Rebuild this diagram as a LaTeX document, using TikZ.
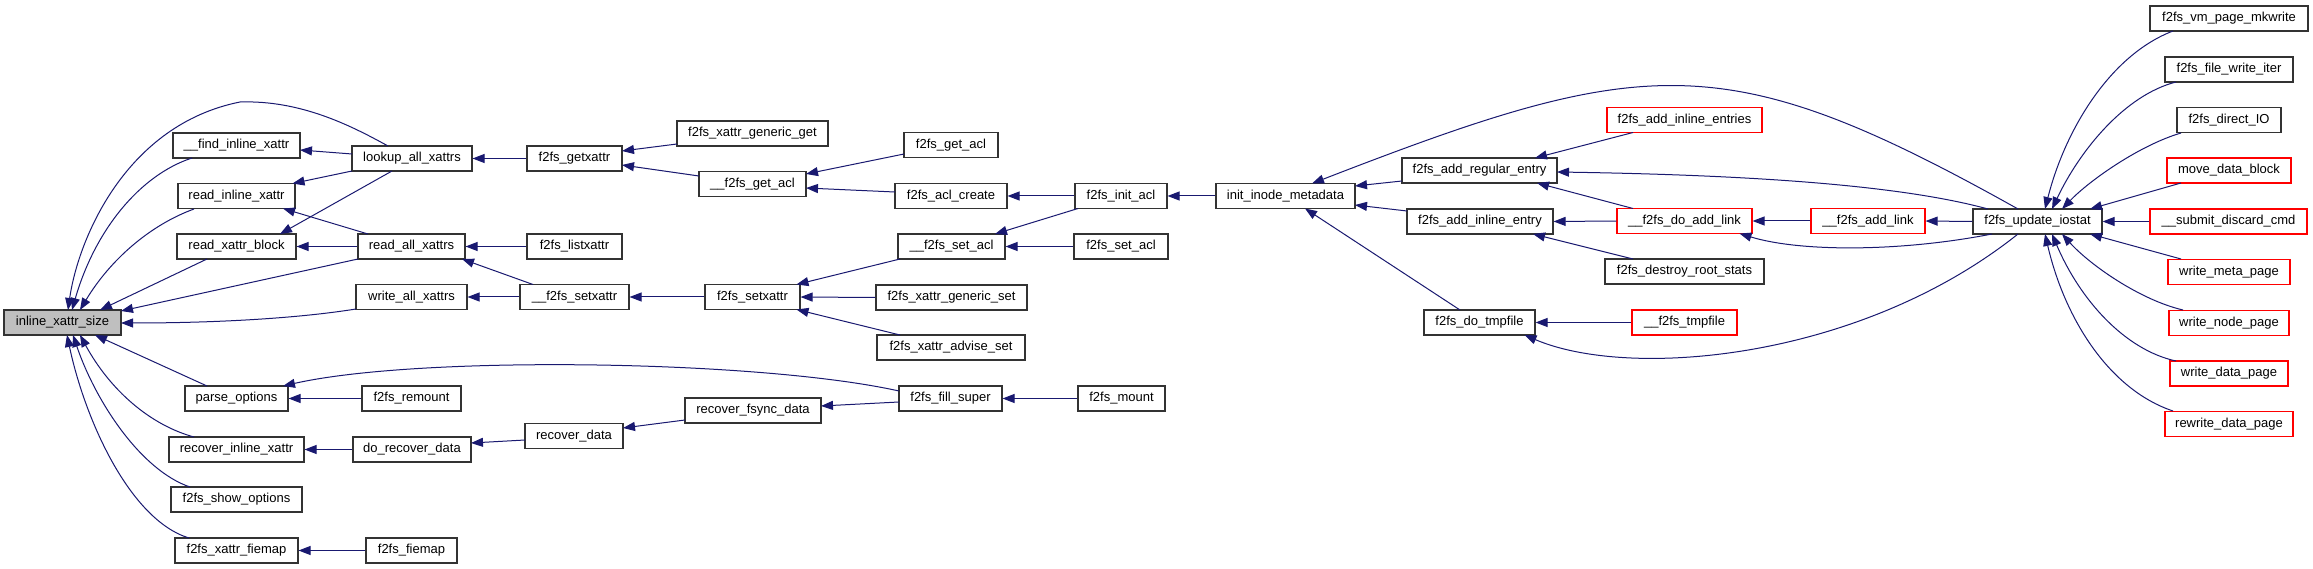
\documentclass[tikz,border=0pt]{standalone}
\usepackage{fontspec}
\setmainfont{Liberation Sans}
\usetikzlibrary{arrows.meta}
\definecolor{edgec}{HTML}{191970}
\definecolor{boxgray}{HTML}{BFBFBF}
\begin{document}
\begin{tikzpicture}[x=1pt,y=-1pt,
  box/.style={draw=black!80, line width=1.1pt, fill=white, minimum height=25pt, inner sep=0pt, font=\fontsize{13}{15}\selectfont, text=black},
  redbox/.style={box, draw=red},
  edge/.style={draw=edgec, line width=1pt, arrows={Triangle[length=12pt,width=9pt]-}}]
\fill[white] (0,0) rectangle (2313,569);
\useasboundingbox (0,0) rectangle (2313,569);
% column 0
\node[box, fill=boxgray, minimum width=117pt] (inl) at (62.5,322.5) {inline\_xattr\_size};
% column 1
\node[box, minimum width=127pt] (findinl) at (236.5,145.5) {\_\_find\_inline\_xattr};
\node[box, minimum width=117pt] (readinl) at (236.5,196) {read\_inline\_xattr};
\node[box, minimum width=119pt] (readblk) at (236.5,246.5) {read\_xattr\_block};
\node[box, minimum width=103pt] (parse) at (236.5,398.5) {parse\_options};
\node[box, minimum width=135pt] (recinl) at (236.5,449.5) {recover\_inline\_xattr};
\node[box, minimum width=131pt] (showopt) at (236.5,499.5) {f2fs\_show\_options};
\node[box, minimum width=123pt] (xfiemap) at (236.5,550.5) {f2fs\_xattr\_fiemap};
% column 2
\node[box, minimum width=120pt] (lookup) at (412,158.5) {lookup\_all\_xattrs};
\node[box, minimum width=107pt] (readall) at (411.5,246.5) {read\_all\_xattrs};
\node[box, minimum width=111pt] (writeall) at (411.5,297) {write\_all\_xattrs};
\node[box, minimum width=99pt] (remount) at (411.5,398.5) {f2fs\_remount};
\node[box, minimum width=118pt] (dorec) at (412,449.5) {do\_recover\_data};
\node[box, minimum width=91pt] (fiemap) at (411.5,550.5) {f2fs\_fiemap};
% column 3
\node[box, minimum width=95pt] (getx) at (574.5,158.5) {f2fs\_getxattr};
\node[box, minimum width=95pt] (listx) at (574.5,246.5) {f2fs\_listxattr};
\node[box, minimum width=109pt] (usetx) at (574.5,297) {\_\_f2fs\_setxattr};
\node[box, minimum width=98pt] (recdata) at (574,436) {recover\_data};
% column 4
\node[box, minimum width=151pt] (genget) at (752.5,133.5) {f2fs\_xattr\_generic\_get};
\node[box, minimum width=107pt] (ugetacl) at (752.5,184) {\_\_f2fs\_get\_acl};
\node[box, minimum width=95pt] (setx) at (752.5,297) {f2fs\_setxattr};
\node[box, minimum width=136pt] (recfsync) at (753,410.5) {recover\_fsync\_data};
% column 5
\node[box, minimum width=94pt] (getacl) at (951,145) {f2fs\_get\_acl};
\node[box, minimum width=112pt] (aclcreate) at (951,196) {f2fs\_acl\_create};
\node[box, minimum width=107pt] (usetacl) at (951.5,246.5) {\_\_f2fs\_set\_acl};
\node[box, minimum width=151pt] (genset) at (951.5,297.5) {f2fs\_xattr\_generic\_set};
\node[box, minimum width=148pt] (advset) at (951,347.5) {f2fs\_xattr\_advise\_set};
\node[box, minimum width=103pt] (fill) at (950.5,398.5) {f2fs\_fill\_super};
% column 6
\node[box, minimum width=92pt] (initacl) at (1121,196) {f2fs\_init\_acl};
\node[box, minimum width=94pt] (setacl) at (1121,246.5) {f2fs\_set\_acl};
\node[box, minimum width=87pt] (mount) at (1121.5,398.5) {f2fs\_mount};
% column 7
\node[box, minimum width=139pt] (initinode) at (1285.5,196) {init\_inode\_metadata};
% column 8
\node[box, minimum width=155pt] (addreg) at (1479.5,170.5) {f2fs\_add\_regular\_entry};
\node[box, minimum width=146pt] (addinl) at (1480,221.5) {f2fs\_add\_inline\_entry};
\node[box, minimum width=111pt] (dotmp) at (1479.5,322.5) {f2fs\_do\_tmpfile};
% column 9
\node[redbox, minimum width=155pt] (addents) at (1684.5,120) {f2fs\_add\_inline\_entries};
\node[redbox, minimum width=135pt] (doadd) at (1684.5,221) {\_\_f2fs\_do\_add\_link};
\node[box, minimum width=159pt] (destroy) at (1684.5,271.5) {f2fs\_destroy\_root\_stats};
\node[redbox, minimum width=105pt] (tmpf) at (1684.5,322.5) {\_\_f2fs\_tmpfile};
% column 10, 11
\node[redbox, minimum width=114pt] (addlink) at (1868,221) {\_\_f2fs\_add\_link};
\node[box, minimum width=129pt] (iostat) at (2037.5,221.5) {f2fs\_update\_iostat};
% column 12
\node[box, minimum width=158pt] (vm) at (2229,18.5) {f2fs\_vm\_page\_mkwrite};
\node[box, minimum width=128pt] (fwi) at (2229,69.5) {f2fs\_file\_write\_iter};
\node[box, minimum width=104pt] (dio) at (2229,120) {f2fs\_direct\_IO};
\node[redbox, minimum width=124pt] (mdb) at (2229,170.5) {move\_data\_block};
\node[redbox, minimum width=157pt] (sdc) at (2228.5,221.5) {\_\_submit\_discard\_cmd};
\node[redbox, minimum width=122pt] (wmp) at (2229,272) {write\_meta\_page};
\node[redbox, minimum width=120pt] (wnp) at (2229,323) {write\_node\_page};
\node[redbox, minimum width=118pt] (wdp) at (2229,373.5) {write\_data\_page};
\node[redbox, minimum width=128pt] (rdp) at (2229,424) {rewrite\_data\_page};
% edges into inline_xattr_size
\draw[edge] ([shift={(5.5,-12.5)}]inl.center) .. controls (78,240) and (125,125) .. (240,102) .. controls (300,100) and (350,125) .. ([shift={(-24,-12.5)}]lookup.center);
\draw[edge] ([shift={(9.5,-12.5)}]inl.center) .. controls (95,230) and (140,175) .. ([shift={(-44.5,12.5)}]findinl.center);
\draw[edge] ([shift={(17.5,-12.5)}]inl.center) .. controls (110,260) and (150,225) .. ([shift={(-42.5,13)}]readinl.center);
\draw[edge] ([shift={(37.5,-12.5)}]inl.center) -- ([shift={(-29.5,12.5)}]readblk.center);
\draw[edge] ([shift={(58.5,-11.5)}]inl.center) -- ([shift={(-53.5,12.5)}]readall.center);
\draw[edge] ([shift={(58.5,0.5)}]inl.center) .. controls (220,323) and (300,318) .. ([shift={(-55.5,12)}]writeall.center);
\draw[edge] ([shift={(32.5,12.5)}]inl.center) -- ([shift={(-29.5,-12.5)}]parse.center);
\draw[edge] ([shift={(17.5,12.5)}]inl.center) .. controls (110,390) and (150,425) .. ([shift={(-42.5,-12.5)}]recinl.center);
\draw[edge] ([shift={(10.5,12.5)}]inl.center) .. controls (95,400) and (140,470) .. ([shift={(-46.5,-12.5)}]showopt.center);
\draw[edge] ([shift={(4.5,12.5)}]inl.center) .. controls (85,420) and (130,520) .. ([shift={(-47.5,-12.5)}]xfiemap.center);
% column 1-2
\draw[edge] ([shift={(63.5,4.5)}]findinl.center) -- ([shift={(-60,-4.5)}]lookup.center);
\draw[edge] ([shift={(56,-12.5)}]readinl.center) -- ([shift={(-60,12.5)}]lookup.center);
\draw[edge] ([shift={(46.5,12.5)}]readinl.center) -- ([shift={(-43.5,-12.5)}]readall.center);
\draw[edge] ([shift={(43.5,-12.5)}]readblk.center) -- ([shift={(-20,12.5)}]lookup.center);
\draw[edge] (readblk.east) -- (readall.west);
\draw[edge] (parse.east) -- (remount.west);
\draw[edge] (recinl.east) -- (dorec.west);
\draw[edge] (xfiemap.east) -- (fiemap.west);
% column 2-3
\draw[edge] (lookup.east) -- (getx.west);
\draw[edge] (readall.east) -- (listx.west);
\draw[edge] ([shift={(50.5,12.5)}]readall.center) -- ([shift={(-41.5,-12.5)}]usetx.center);
\draw[edge] (writeall.east) -- (usetx.west);
\draw[edge] ([shift={(59,-6.5)}]dorec.center) -- ([shift={(-49,4)}]recdata.center);
% column 3-4
\draw[edge] ([shift={(47.5,-7.5)}]getx.center) -- ([shift={(-75.5,10.5)}]genget.center);
\draw[edge] ([shift={(47.5,6.5)}]getx.center) -- ([shift={(-53.5,-8)}]ugetacl.center);
\draw[edge] (usetx.east) -- (setx.west);
\draw[edge] ([shift={(49,-8)}]recdata.center) -- ([shift={(-68,9.5)}]recfsync.center);
% column 4-5
\draw[edge] ([shift={(53.5,-10)}]ugetacl.center) -- ([shift={(-47,9)}]getacl.center);
\draw[edge] ([shift={(53.5,4)}]ugetacl.center) -- ([shift={(-56,-4)}]aclcreate.center);
\draw[edge] ([shift={(44,-12.5)}]setx.center) -- ([shift={(-51.5,12.5)}]usetacl.center);
\draw[edge] (setx.east) -- (genset.west);
\draw[edge] ([shift={(44,12.5)}]setx.center) -- ([shift={(-51,-12.5)}]advset.center);
\draw[edge] ([shift={(68,-4.5)}]recfsync.center) -- ([shift={(-51.5,3.5)}]fill.center);
\draw[edge] ([shift={(46.5,-12.5)}]parse.center) .. controls (420,355) and (760,360) .. ([shift={(-51.5,-7.5)}]fill.center);
% column 5-6
\draw[edge] (aclcreate.east) -- (initacl.west);
\draw[edge] ([shift={(43.5,-12.5)}]usetacl.center) -- ([shift={(-43,12.5)}]initacl.center);
\draw[edge] (usetacl.east) -- (setacl.west);
\draw[edge] (fill.east) -- (mount.west);
% column 6-7
\draw[edge] (initacl.east) -- (initinode.west);
% column 7-8
\draw[edge] ([shift={(26.5,-12.5)}]initinode.center) .. controls (1646,54) and (1725,45) .. ([shift={(-19.5,-12.5)}]iostat.center);
\draw[edge] ([shift={(69.5,-10)}]initinode.center) -- ([shift={(-77.5,10.5)}]addreg.center);
\draw[edge] ([shift={(69.5,9)}]initinode.center) -- ([shift={(-73,-10.5)}]addinl.center);
\draw[edge] ([shift={(19.5,12.5)}]initinode.center) -- ([shift={(-19.5,-12.5)}]dotmp.center);
% column 8-9
\draw[edge] ([shift={(55.5,-12.5)}]addreg.center) -- ([shift={(-51.5,12.5)}]addents.center);
\draw[edge] ([shift={(77.5,1.5)}]addreg.center) .. controls (1750,175) and (1900,185) .. ([shift={(-49.5,-12.5)}]iostat.center);
\draw[edge] ([shift={(57.5,12.5)}]addreg.center) -- ([shift={(-51.5,-12.5)}]doadd.center);
\draw[edge] (addinl.east) -- (doadd.west);
\draw[edge] ([shift={(53,12.5)}]addinl.center) -- ([shift={(-51.5,-12.5)}]destroy.center);
\draw[edge] (dotmp.east) -- (tmpf.west);
\draw[edge] ([shift={(45,12.5)}]dotmp.center) .. controls (1630,380) and (1860,360) .. ([shift={(-19.5,12.5)}]iostat.center);
% column 9-11
\draw[edge] (doadd.east) -- (addlink.west);
\draw[edge] ([shift={(55,12.5)}]doadd.center) .. controls (1800,252) and (1900,252) .. ([shift={(-45.5,12.5)}]iostat.center);
\draw[edge] (addlink.east) -- (iostat.west);
% right fan
\draw[edge] ([shift={(7.5,-12.5)}]iostat.center) .. controls (2065,130) and (2110,55) .. ([shift={(-56,12.5)}]vm.center);
\draw[edge] ([shift={(14.5,-12.5)}]iostat.center) .. controls (2080,150) and (2125,95) .. ([shift={(-53,12.5)}]fwi.center);
\draw[edge] ([shift={(24.5,-12.5)}]iostat.center) .. controls (2090,180) and (2140,145) .. ([shift={(-48,13)}]dio.center);
\draw[edge] ([shift={(52.5,-12.5)}]iostat.center) -- ([shift={(-48,12.5)}]mdb.center);
\draw[edge] (iostat.east) -- (sdc.west);
\draw[edge] ([shift={(52.5,12.5)}]iostat.center) -- ([shift={(-48,-13)}]wmp.center);
\draw[edge] ([shift={(24.5,12.5)}]iostat.center) .. controls (2090,265) and (2140,300) .. ([shift={(-46,-13)}]wnp.center);
\draw[edge] ([shift={(14.5,12.5)}]iostat.center) .. controls (2080,300) and (2125,350) .. ([shift={(-53,-12.5)}]wdp.center);
\draw[edge] ([shift={(7.5,12.5)}]iostat.center) .. controls (2065,320) and (2110,390) .. ([shift={(-56,-13)}]rdp.center);
\end{tikzpicture}
\end{document}
